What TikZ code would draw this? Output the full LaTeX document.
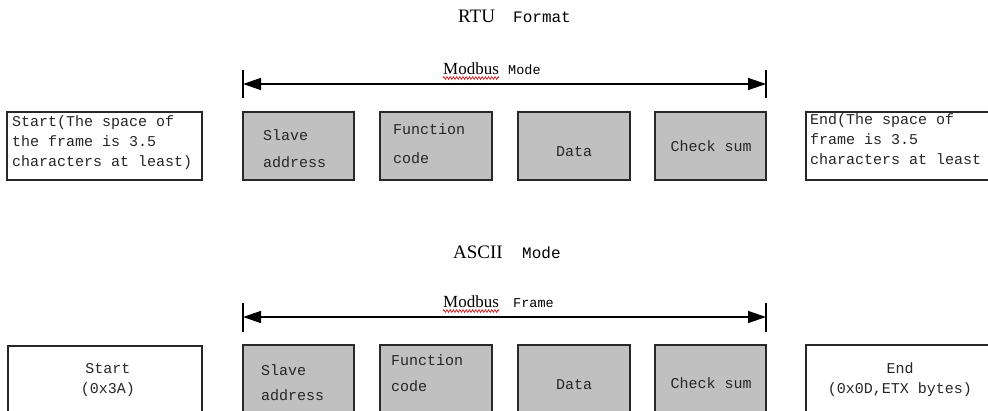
\documentclass[tikz,border=0pt]{standalone}
\usepackage{fontspec}
\setmainfont{Liberation Serif}
\newfontfamily\monof{Liberation Mono}
\usetikzlibrary{arrows.meta,decorations.pathmorphing}
\definecolor{boxgray}{RGB}{192,192,192}
\definecolor{edgegray}{RGB}{40,40,40}
\begin{document}
\begin{tikzpicture}[x=1pt,y=-1pt,
  whitebox/.style={draw=edgegray, line width=1.6pt, fill=white},
  graybox/.style={draw=edgegray, line width=1.6pt, fill=boxgray},
  boxtext/.style={inner sep=0pt, font=\monof\fontsize{15}{20}\selectfont, text=black!85},
  sertitle/.style={inner sep=0pt, anchor=base west, font=\fontsize{19}{22}\selectfont},
  serlabel/.style={inner sep=0pt, anchor=base west, font=\fontsize{17}{20}\selectfont},
  monotitle/.style={inner sep=0pt, anchor=base west, font=\monof\fontsize{16}{20}\selectfont},
  monosmall/.style={inner sep=0pt, anchor=base west, font=\monof\fontsize{13.5}{20}\selectfont},
  span/.style={line width=1.4pt, {Triangle[length=18pt,width=12pt]}-{Triangle[length=18pt,width=12pt]}},
  bar/.style={line width=1.4pt},
  squiggle/.style={draw=red!85!black, line width=0.6pt, decorate, decoration={zigzag, amplitude=1.4pt, segment length=3.2pt}}
]
\useasboundingbox (0,0) rectangle (988,410);
\clip (0,0) rectangle (988,410);

% ---------------- RTU row ----------------
\node[sertitle] (rtu) at (458,22) {RTU};
\node[monotitle] (rtufmt) at (513,22) {Format};

\node[serlabel] (mb1) at (443,74) {Modbus};
\node[monosmall] (mb1m) at (508,74) {Mode};
\draw[squiggle] ([yshift=-4pt]mb1.base west) -- ([yshift=-4pt]mb1.base east);

\coordinate (l1t) at (243,70); \coordinate (l1b) at (243,98);
\coordinate (r1t) at (766,70); \coordinate (r1b) at (766,98);
\coordinate (l1) at (243,84); \coordinate (r1) at (766,84);
\draw[bar] (l1t) -- (l1b);
\draw[bar] (r1t) -- (r1b);
\draw[span] (l1) -- (r1);

\path[whitebox] (7,112) rectangle (202,180);
\node[boxtext, anchor=west, align=left] (st1) at (12,143)
  {Start(The space of\\the frame is 3.5\\characters at least)};

\path[graybox] (243,112) rectangle (354,180);
\node[boxtext, anchor=west, align=left] (sa1) at (263,148.5) {Slave\\[7pt]address};

\path[graybox] (380,112) rectangle (492,180);
\node[boxtext, anchor=west, align=left] (fc1) at (393,143.5) {Function\\[9pt]code};

\path[graybox] (518,112) rectangle (630,180);
\node[boxtext] (da1) at (574,152) {Data};

\path[graybox] (655,112) rectangle (766,180);
\node[boxtext] (cs1) at (711,146) {Check sum};

\path[whitebox] (806,112) rectangle (1000,180);
\node[boxtext, anchor=west, align=left] (en1) at (810,139)
  {End(The space of\\frame is 3.5\\characters at least};

% ---------------- ASCII row ----------------
\node[sertitle] (asc) at (453,258) {ASCII};
\node[monotitle] (ascm) at (522,258) {Mode};

\node[serlabel] (mb2) at (443,307) {Modbus};
\node[monosmall] (mb2f) at (513,307) {Frame};
\draw[squiggle] ([yshift=-4pt]mb2.base west) -- ([yshift=-4pt]mb2.base east);

\coordinate (l2t) at (243,303); \coordinate (l2b) at (243,332);
\coordinate (r2t) at (766,303); \coordinate (r2b) at (766,332);
\coordinate (l2) at (243,317); \coordinate (r2) at (766,317);
\draw[bar] (l2t) -- (l2b);
\draw[bar] (r2t) -- (r2b);
\draw[span] (l2) -- (r2);

\path[whitebox] (8,346) rectangle (202,425);
\node[boxtext, align=center] (st2) at (108,380) {Start\\(0x3A)};

\path[graybox] (243,345) rectangle (354,425);
\node[boxtext, anchor=west, align=left] (sa2) at (261,383) {Slave\\[5pt]address};

\path[graybox] (380,345) rectangle (492,425);
\node[boxtext, anchor=west, align=left] (fc2) at (391,373) {Function\\[6pt]code};

\path[graybox] (518,345) rectangle (630,425);
\node[boxtext] (da2) at (574,385) {Data};

\path[graybox] (655,345) rectangle (766,425);
\node[boxtext] (cs2) at (711,383) {Check sum};

\path[whitebox] (806,345) rectangle (1000,425);
\node[boxtext, align=center] (en2) at (900,380) {End\\(0x0D,ETX bytes)};
\end{tikzpicture}
\end{document}
